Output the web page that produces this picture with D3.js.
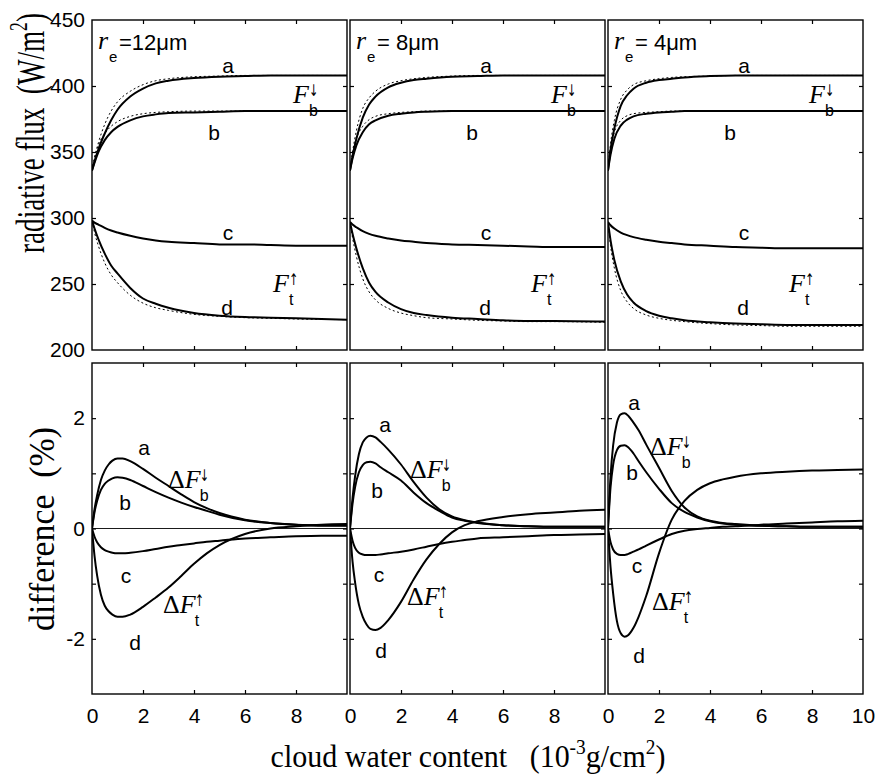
<!DOCTYPE html>
<html><head><meta charset="utf-8">
<script src="https://cdn.jsdelivr.net/npm/d3@7"></script>
<style>
body{margin:0;background:#fff;}
svg{display:block;}
text{white-space:pre;}
</style></head><body>
<svg id="c" width="877" height="779"></svg>
<script>
// ---------- DATA ----------
const panelRadius = ["=12\u03bcm", "= 8\u03bcm", "= 4\u03bcm"];
const fluxTicks = [200, 250, 300, 350, 400, 450];
const diffTickLabels = [-2, 0, 2];
const diffTicks = [-2, -1, 0, 1, 2];
const xInnerTicks = [2, 4, 6, 8];
const xTickLabels = [0, 2, 4, 6, 8];
const xTickLabelsLast = [0, 2, 4, 6, 8, 10];

const xsFlux = [0, 0.1, 0.25, 0.5, 0.75, 1, 1.5, 2, 2.5, 3, 4, 5, 6, 7, 8, 10];
// r_e = 12 um
const fluxA12 = [336, 343, 352, 364, 374, 382, 392, 398, 402, 404, 406, 407, 407.5, 408, 408, 408];
const fluxB12 = [336, 342, 350, 359, 365, 369, 374, 377, 378.5, 379.5, 380, 380.5, 381, 381, 381, 381];
const fluxC12 = [298, 296.5, 295, 292.5, 290.5, 289, 286.5, 284.5, 283, 282, 281, 280, 280, 279.5, 279, 279];
const fluxD12 = [298, 292, 284, 273, 264, 258, 247, 239, 235, 232, 228, 226, 225, 224.5, 224, 223];
const fluxA12d = [336, 346, 357, 371, 381, 388, 396, 401, 404, 405.5, 407, 407.5, 408, 408, 408, 408];
const fluxB12d = [336, 345, 355, 364, 369.5, 373, 377, 379, 380, 380.5, 381, 381, 381, 381, 381, 381];
const fluxD12d = [298, 289, 279, 266, 257, 251, 241.5, 235.5, 232, 230, 227, 225.5, 224.5, 224, 223.5, 223];
// r_e = 8 um
const fluxA8 = [336, 347, 360, 376, 386, 392, 399, 402.5, 404.5, 405.5, 407, 407.5, 408, 408, 408, 408];
const fluxB8 = [336, 345, 355, 365, 371, 374, 377.5, 379, 380, 380.5, 381, 381, 381, 381, 381, 381];
const fluxC8 = [297, 295, 293, 290, 288, 286.5, 284.5, 283, 282, 281, 280, 279.5, 279, 278.5, 278, 278];
const fluxD8 = [297, 288, 277, 262, 251, 244, 236, 231, 228, 226.5, 224.5, 223.5, 222.5, 222, 222, 221.5];
const fluxA8d = [336, 350, 366, 383, 391, 396, 401.5, 404, 405.5, 406.5, 407.5, 408, 408, 408, 408, 408];
const fluxB8d = [336, 348, 360, 369.5, 374.5, 377, 379, 380, 380.5, 381, 381, 381, 381, 381, 381, 381];
const fluxD8d = [297, 285, 271, 254, 244, 238, 231.5, 228, 226, 224.5, 223.5, 222.5, 222, 221.5, 221.5, 221];
// r_e = 4 um
const fluxA4 = [336, 352, 368, 385, 393, 398, 402.5, 404.5, 405.5, 406.5, 407.5, 408, 408, 408, 408, 408];
const fluxB4 = [336, 348, 360, 370, 374.5, 377, 379, 380, 380.5, 381, 381, 381, 381, 381, 381, 381];
const fluxC4 = [297, 294.5, 292, 289, 287, 285.5, 283.5, 282, 281, 280, 279, 278, 277.5, 277, 277, 277];
const fluxD4 = [297, 283, 268, 252, 242, 236, 229.5, 226, 224, 222.5, 221, 220, 219.5, 219, 219, 219];
const fluxA4d = [336, 356, 374, 390, 397, 401, 404, 405.5, 406.5, 407, 407.5, 408, 408, 408, 408, 408];
const fluxB4d = [336, 352, 365, 374, 377.5, 379, 380, 380.5, 381, 381, 381, 381, 381, 381, 381, 381];
const fluxD4d = [297, 279, 262, 245, 236.5, 231.5, 226.5, 224, 222.5, 221.5, 220, 219, 218.5, 218, 218, 218];

const xsDiff = [0, 0.1, 0.2, 0.35, 0.5, 0.65, 0.8, 1, 1.2, 1.5, 2, 2.5, 3, 3.5, 4, 4.5, 5, 6, 7, 8, 9, 10];
const diffA12 = [0, 0.35, 0.6, 0.88, 1.05, 1.16, 1.23, 1.27, 1.27, 1.22, 1.08, 0.92, 0.77, 0.62, 0.48, 0.37, 0.28, 0.16, 0.1, 0.07, 0.06, 0.06];
const diffB12 = [0, 0.3, 0.5, 0.7, 0.81, 0.87, 0.91, 0.93, 0.92, 0.88, 0.77, 0.66, 0.56, 0.47, 0.39, 0.32, 0.25, 0.15, 0.1, 0.07, 0.05, 0.05];
const diffC12 = [0, -0.15, -0.25, -0.34, -0.39, -0.42, -0.44, -0.45, -0.45, -0.44, -0.41, -0.37, -0.33, -0.3, -0.27, -0.24, -0.22, -0.18, -0.16, -0.14, -0.13, -0.13];
const diffD12 = [0, -0.5, -0.85, -1.2, -1.4, -1.5, -1.56, -1.6, -1.6, -1.56, -1.42, -1.25, -1.07, -0.86, -0.64, -0.45, -0.3, -0.1, 0.0, 0.04, 0.07, 0.08];
const diffA8 = [0, 0.55, 0.95, 1.35, 1.56, 1.65, 1.68, 1.65, 1.57, 1.43, 1.16, 0.84, 0.56, 0.35, 0.22, 0.15, 0.11, 0.06, 0.04, 0.03, 0.03, 0.03];
const diffB8 = [0, 0.45, 0.75, 1.02, 1.15, 1.2, 1.21, 1.18, 1.11, 1.02, 0.87, 0.65, 0.46, 0.32, 0.2, 0.14, 0.1, 0.06, 0.04, 0.03, 0.03, 0.03];
const diffC8 = [0, -0.22, -0.35, -0.44, -0.47, -0.48, -0.48, -0.48, -0.47, -0.45, -0.42, -0.38, -0.33, -0.28, -0.24, -0.21, -0.18, -0.16, -0.14, -0.12, -0.11, -0.1];
const diffD8 = [0, -0.6, -0.98, -1.38, -1.6, -1.74, -1.82, -1.84, -1.8, -1.66, -1.33, -0.92, -0.56, -0.28, -0.07, 0.06, 0.13, 0.21, 0.26, 0.29, 0.32, 0.34];
const diffA4 = [0, 0.95, 1.5, 1.92, 2.07, 2.09, 2.04, 1.92, 1.78, 1.52, 1.1, 0.68, 0.38, 0.22, 0.14, 0.1, 0.08, 0.05, 0.04, 0.03, 0.03, 0.03];
const diffB4 = [0, 0.75, 1.15, 1.42, 1.5, 1.51, 1.47, 1.36, 1.22, 1.02, 0.72, 0.46, 0.3, 0.2, 0.13, 0.09, 0.07, 0.05, 0.04, 0.03, 0.03, 0.03];
const diffC4 = [0, -0.25, -0.38, -0.46, -0.48, -0.48, -0.46, -0.42, -0.38, -0.31, -0.2, -0.1, -0.04, -0.01, 0.01, 0.03, 0.04, 0.07, 0.09, 0.11, 0.13, 0.14];
const diffD4 = [0, -0.7, -1.17, -1.68, -1.9, -1.96, -1.93, -1.8, -1.6, -1.22, -0.45, 0.16, 0.5, 0.7, 0.82, 0.89, 0.94, 1.0, 1.03, 1.05, 1.06, 1.07];

// ---------- LAYOUT ----------
const panelLeft = [92, 350, 608];
const PW = 255;
const TOP = {y0: 20, y1: 350};
const BOT = {y0: 363, y1: 694};
const SANS = "'Liberation Sans', Arial, sans-serif";
const SERIF = "'Liberation Serif', 'Times New Roman', serif";

const fluxSolid = [[fluxA12, fluxB12, fluxC12, fluxD12], [fluxA8, fluxB8, fluxC8, fluxD8], [fluxA4, fluxB4, fluxC4, fluxD4]];
const fluxDash = [[fluxA12d, fluxB12d, fluxD12d], [fluxA8d, fluxB8d, fluxD8d], [fluxA4d, fluxB4d, fluxD4d]];
const diffSolid = [[diffA12, diffB12, diffC12, diffD12], [diffA8, diffB8, diffC8, diffD8], [diffA4, diffB4, diffC4, diffD4]];

const botLabelPos = [
  {a:[52,455], b:[33,510], c:[34,583], d:[43,650], Fb:[76,488], Ft:[71,613]},
  {a:[35,432], b:[27,498], c:[29,582], d:[31,658], Fb:[60,478], Ft:[57,605]},
  {a:[26,410], b:[24,480], c:[29,573], d:[31,663], Fb:[42,455], Ft:[44,610]}
];

const svg = d3.select('#c');
const defs = svg.append('defs');

const yTop = d3.scaleLinear().domain([200, 450]).range([TOP.y1, TOP.y0]);
const yBot = d3.scaleLinear().domain([-3, 3]).range([BOT.y1, BOT.y0]);
const fmtInt = d => String(d);

function styleAxis(g, size) {
  g.select('.domain').remove();
  g.selectAll('line').attr('stroke', '#000').attr('stroke-width', 1.2);
  g.selectAll('text').attr('font-family', SANS).attr('font-size', size).attr('fill', '#000');
}

function fLabel(g, x, y, size, delta, sub, arrow) {
  const t = g.append('text').attr('x', x).attr('y', y).attr('font-family', SERIF).attr('font-size', size);
  if (delta) t.append('tspan').text('\u0394');
  t.append('tspan').attr('font-style', 'italic').text('F');
  const w = t.node().getBBox().width;
  g.append('text').attr('x', x + w - 2).attr('y', y + 13).attr('font-family', SANS).attr('font-size', 16).text(sub);
  g.append('text').attr('x', x + w - 2).attr('y', y - 7).attr('font-family', "'DejaVu Sans', sans-serif")
    .attr('font-size', 16).attr('transform', `translate(${x + w - 2},${y - 7}) scale(0.7,1) translate(${-(x + w - 2)},${-(y - 7)})`)
    .text(arrow);
}

panelLeft.forEach((L, p) => {
  const x = d3.scaleLinear().domain([0, 10]).range([L, L + PW]);
  const g = svg.append('g');

  defs.append('clipPath').attr('id', 'ct' + p).append('rect')
    .attr('x', L).attr('y', TOP.y0).attr('width', PW).attr('height', TOP.y1 - TOP.y0);
  defs.append('clipPath').attr('id', 'cb' + p).append('rect')
    .attr('x', L).attr('y', BOT.y0).attr('width', PW).attr('height', BOT.y1 - BOT.y0);

  // ----- top panel -----
  const lineT = d3.line().x((d, i) => x(xsFlux[i])).y(d => yTop(d)).curve(d3.curveMonotoneX);
  const gt = g.append('g').attr('clip-path', `url(#ct${p})`);
  fluxDash[p].forEach(s => gt.append('path').attr('d', lineT(s)).attr('fill', 'none')
    .attr('stroke', '#000').attr('stroke-width', 1).attr('stroke-dasharray', '2,2.5'));
  fluxSolid[p].forEach(s => gt.append('path').attr('d', lineT(s)).attr('fill', 'none')
    .attr('stroke', '#000').attr('stroke-width', 2));

  // ----- bottom panel -----
  const lineB = d3.line().x((d, i) => x(xsDiff[i])).y(d => yBot(d)).curve(d3.curveMonotoneX);
  const gb = g.append('g').attr('clip-path', `url(#cb${p})`);
  gb.append('line').attr('x1', x(0)).attr('x2', x(10)).attr('y1', yBot(0)).attr('y2', yBot(0))
    .attr('stroke', '#000').attr('stroke-width', 0.9);
  diffSolid[p].forEach(s => gb.append('path').attr('d', lineB(s)).attr('fill', 'none')
    .attr('stroke', '#000').attr('stroke-width', 2));

  // ----- ticks (inward, all sides) + frames -----
  [[TOP, yTop, [250, 300, 350, 400]], [BOT, yBot, diffTicks]].forEach(([P, y, yt]) => {
    styleAxis(g.append('g').attr('transform', `translate(0,${P.y1})`)
      .call(d3.axisBottom(x).tickValues(xInnerTicks).tickSize(-4).tickFormat('')), 10);
    styleAxis(g.append('g').attr('transform', `translate(0,${P.y0})`)
      .call(d3.axisTop(x).tickValues(xInnerTicks).tickSize(-4).tickFormat('')), 10);
    styleAxis(g.append('g').attr('transform', `translate(${L},0)`)
      .call(d3.axisLeft(y).tickValues(yt).tickSize(-4).tickFormat('')), 10);
    styleAxis(g.append('g').attr('transform', `translate(${L + PW},0)`)
      .call(d3.axisRight(y).tickValues(yt).tickSize(-4).tickFormat('')), 10);
    g.append('rect').attr('x', L).attr('y', P.y0).attr('width', PW).attr('height', P.y1 - P.y0)
      .attr('fill', 'none').attr('stroke', '#000').attr('stroke-width', 1.4);
  });

  // tick labels
  if (p === 0) {
    styleAxis(g.append('g').attr('transform', `translate(${L},0)`)
      .call(d3.axisLeft(yTop).tickValues(fluxTicks).tickSize(0).tickPadding(7).tickFormat(fmtInt)), 21);
    styleAxis(g.append('g').attr('transform', `translate(${L},0)`)
      .call(d3.axisLeft(yBot).tickValues(diffTickLabels).tickSize(0).tickPadding(7).tickFormat(fmtInt)), 21);
  }
  styleAxis(g.append('g').attr('transform', `translate(0,${BOT.y1})`)
    .call(d3.axisBottom(x).tickValues(p === 2 ? xTickLabelsLast : xTickLabels).tickSize(0).tickPadding(14).tickFormat(fmtInt)), 21);

  // ----- panel title r_e -----
  g.append('text').attr('x', L + 6).attr('y', 49).attr('font-family', SERIF).attr('font-style', 'italic')
    .attr('font-size', 26).text('r');
  g.append('text').attr('x', L + 17).attr('y', 62).attr('font-family', SANS).attr('font-size', 15).text('e');
  g.append('text').attr('x', L + 27).attr('y', 50).attr('font-family', SANS).attr('font-size', 22).text(panelRadius[p]);

  // ----- top curve labels -----
  const lab = (tx, ty, s) => g.append('text').attr('x', tx).attr('y', ty).attr('text-anchor', 'middle')
    .attr('font-family', SANS).attr('font-size', 21).text(s);
  lab(L + 136, 73, 'a');
  lab(L + 122, 140, 'b');
  lab(L + 136, 240, 'c');
  lab(L + 135, 315, 'd');
  fLabel(g, L + 201, 103, 26, false, 'b', '\u2193');
  fLabel(g, L + 181, 292, 26, false, 't', '\u2191');

  // ----- bottom curve labels -----
  const bp = botLabelPos[p];
  lab(L + bp.a[0], bp.a[1], 'a');
  lab(L + bp.b[0], bp.b[1], 'b');
  lab(L + bp.c[0], bp.c[1], 'c');
  lab(L + bp.d[0], bp.d[1], 'd');
  fLabel(g, L + bp.Fb[0], bp.Fb[1], 26, true, 'b', '\u2193');
  fLabel(g, L + bp.Ft[0], bp.Ft[1], 26, true, 't', '\u2191');
});

// ----- axis titles -----
function fitText(sel, cx, cy, rot, targetLen) {
  const bb = sel.node().getBBox();
  const s = targetLen / bb.width;
  sel.attr('text-anchor', 'middle')
     .attr('transform', `translate(${cx},${cy}) rotate(${rot}) scale(${s},1)`);
}
const yt1 = svg.append('text').attr('font-family', SERIF).attr('font-size', 40).attr('x', 0).attr('y', 0);
yt1.append('tspan').text('radiative flux  (W/m');
yt1.append('tspan').attr('font-size', 26).attr('dy', -17).text('2');
yt1.append('tspan').attr('dy', 17).text(')');
fitText(yt1, 44, 133, -90, 240);

const yt2 = svg.append('text').attr('font-family', SERIF).attr('font-size', 35).attr('x', 0).attr('y', 0);
yt2.append('tspan').text('difference  (%)');
fitText(yt2, 54, 529, -90, 204);

const xt = svg.append('text').attr('font-family', SERIF).attr('font-size', 31).attr('x', 0).attr('y', 0);
xt.append('tspan').text('cloud water content   (10');
xt.append('tspan').attr('font-size', 20).attr('dy', -13).text('-3');
xt.append('tspan').attr('dy', 13).text('g/cm');
xt.append('tspan').attr('font-size', 20).attr('dy', -13).text('2');
xt.append('tspan').attr('dy', 13).text(')');
fitText(xt, 468, 767, 0, 395);
</script>
</body></html>
